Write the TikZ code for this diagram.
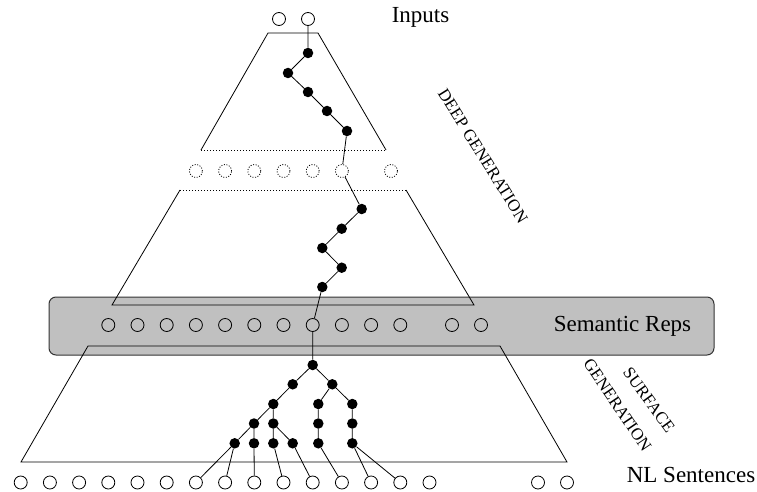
\documentclass[tikz,border=0pt]{standalone}
\usepackage{fontspec}
\setmainfont{Liberation Serif}
\begin{document}
\begin{tikzpicture}[x=1pt,y=-1pt,
 oc/.style={circle,draw,line width=0.8pt,minimum size=13pt,inner sep=0pt},
 dc/.style={oc,dash pattern=on 1pt off 1.6pt},
 bd/.style={circle,fill=black,minimum size=10.5pt,inner sep=0pt},
 ln/.style={line width=0.8pt},
 dl/.style={line width=0.8pt,dash pattern=on 1pt off 2pt},
 lbl/.style={font=\fontsize{23}{27}\selectfont,inner sep=0pt,anchor=base},
 rot/.style={font=\fontsize{17}{20}\selectfont,inner sep=0pt}]
\useasboundingbox (0,0) rectangle (757,492);
% semantic band
\draw[line width=1pt,fill={rgb,255:red,192;green,192;blue,192},rounded corners=7pt,draw=black!80] (49,297) rectangle (714,355);
% trapezoids
\draw[ln] (201,150) -- (268,33) -- (318,33) -- (386,150);
\draw[dl] (201,150) -- (386,150);
\draw[dl] (180,190) -- (406,190);
\draw[ln] (180,190) -- (112,305) -- (474,305) -- (406,190);
\draw[ln] (88,346) -- (21,462) -- (567,462) -- (500,346) -- cycle;
% labels
\node[lbl] (tin) at (420.5,22.7) {Inputs};
\node[lbl] (tsr) at (622.5,331.7) {Semantic Reps};
\node[lbl] (tnl) at (691,482.7) {NL Sentences};
\node[rot,rotate=-58] (tdg) at (483,156) {DEEP GENERATION};
\node[rot,rotate=-54] (tsf) at (649,400) {SURFACE};
\node[rot,rotate=-56] (tsg) at (617.5,405) {GENERATION};
% input circles
\node[oc] (in1) at (279,19) {};
\node[oc] (in2) at (308,19) {};
% dotted circles
\foreach \i in {6,...,11} { \node[dc] (d\i) at (20.7+29.2*\i,171) {}; }
\node[dc] (d12) at (391,171) {};
% semantic circles
\foreach \i in {3,...,13} { \node[oc] (s\i) at (20.7+29.2*\i,325) {}; }
\node[oc] (s14) at (452,325) {};
\node[oc] (s15) at (481,325) {};
% bottom circles
\foreach \i in {0,...,14} { \node[oc] (n\i) at (20.7+29.2*\i,482.5) {}; }
\node[oc] (n15) at (538,482.5) {};
\node[oc] (n16) at (567,482.5) {};
% deep chain
\node[bd] (t1) at (308,53) {};
\node[bd] (t2) at (288,73) {};
\node[bd] (t3) at (308,92) {};
\node[bd] (t4) at (327,111) {};
\node[bd] (t5) at (347,131) {};
\node[bd] (m1) at (361.7,209) {};
\node[bd] (m2) at (341.7,228.7) {};
\node[bd] (m3) at (322.3,248) {};
\node[bd] (m4) at (341.7,267.7) {};
\node[bd] (m5) at (322.3,287) {};
\draw[ln] (in2) -- (t1) -- (t2) -- (t3) -- (t4) -- (t5) -- (d11) -- (m1) -- (m2) -- (m3) -- (m4) -- (m5) -- (s10);
% surface tree
\node[bd] (r) at (312.7,365) {};
\node[bd] (a1) at (292.7,384.3) {};
\node[bd] (b1) at (332.3,384.3) {};
\node[bd] (a2) at (273.3,404) {};
\node[bd] (b2) at (318.3,404) {};
\node[bd] (c2) at (352.3,404) {};
\node[bd] (a3) at (254,423.5) {};
\node[bd] (b3) at (273.3,423.5) {};
\node[bd] (c3) at (318.3,423.5) {};
\node[bd] (d3) at (352.3,423.5) {};
\node[bd] (l1) at (234.7,443.3) {};
\node[bd] (l2) at (254,443.3) {};
\node[bd] (l3) at (273.3,443.3) {};
\node[bd] (l4) at (292.7,443.3) {};
\node[bd] (l5) at (318.3,443.3) {};
\node[bd] (l6) at (352.3,443.3) {};
\draw[ln] (s10) -- (r) (r) -- (a1) (r) -- (b1) (a1) -- (a2) (b1) -- (b2) (b1) -- (c2)
 (a2) -- (a3) (a2) -- (b3) (b2) -- (c3) (c2) -- (d3)
 (a3) -- (l1) (a3) -- (l2) (b3) -- (l3) (b3) -- (l4) (c3) -- (l5) (d3) -- (l6)
 (l1) -- (n6) (l1) -- (n7) (l2) -- (n8) (l3) -- (n9) (l4) -- (n10) (l5) -- (n11) (l6) -- (n12) (l6) -- (n13);
\end{tikzpicture}
\end{document}
